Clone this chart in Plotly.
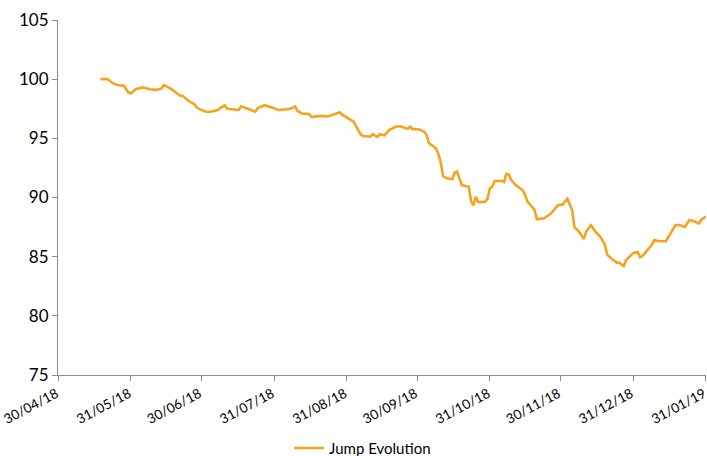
import plotly.graph_objects as go

dates = [
    "2018-05-18", "2018-05-21", "2018-05-23", "2018-05-25", "2018-05-28", "2018-05-29", "2018-05-30", "2018-05-31",
    "2018-06-02", "2018-06-05", "2018-06-08", "2018-06-11", "2018-06-13", "2018-06-14", "2018-06-15", "2018-06-17",
    "2018-06-19", "2018-06-21", "2018-06-22", "2018-06-24", "2018-06-25", "2018-06-27", "2018-06-28", "2018-06-30",
    "2018-07-02", "2018-07-04", "2018-07-07", "2018-07-08", "2018-07-10", "2018-07-11", "2018-07-13", "2018-07-16",
    "2018-07-17", "2018-07-20", "2018-07-23", "2018-07-24", "2018-07-27", "2018-07-30", "2018-08-02", "2018-08-05",
    "2018-08-07", "2018-08-09", "2018-08-10", "2018-08-12", "2018-08-15", "2018-08-16", "2018-08-18", "2018-08-20",
    "2018-08-23", "2018-08-26", "2018-08-28", "2018-08-29", "2018-09-01", "2018-09-03", "2018-09-04", "2018-09-06",
    "2018-09-07", "2018-09-10", "2018-09-11", "2018-09-13", "2018-09-14", "2018-09-16", "2018-09-18", "2018-09-21",
    "2018-09-23", "2018-09-26", "2018-09-27", "2018-09-28", "2018-10-01", "2018-10-03", "2018-10-04", "2018-10-05",
    "2018-10-08", "2018-10-09", "2018-10-10", "2018-10-11", "2018-10-13", "2018-10-15", "2018-10-16", "2018-10-17",
    "2018-10-19", "2018-10-21", "2018-10-22", "2018-10-23", "2018-10-24", "2018-10-25", "2018-10-26", "2018-10-29",
    "2018-10-30", "2018-10-31", "2018-11-01", "2018-11-02", "2018-11-05", "2018-11-06", "2018-11-07", "2018-11-08",
    "2018-11-09", "2018-11-11", "2018-11-14", "2018-11-15", "2018-11-16", "2018-11-18", "2018-11-19", "2018-11-20",
    "2018-11-22", "2018-11-23", "2018-11-26", "2018-11-28", "2018-11-29", "2018-12-01", "2018-12-03", "2018-12-05",
    "2018-12-06", "2018-12-08", "2018-12-10", "2018-12-11", "2018-12-13", "2018-12-15", "2018-12-17", "2018-12-19",
    "2018-12-20", "2018-12-22", "2018-12-24", "2018-12-25", "2018-12-27", "2018-12-28", "2018-12-30", "2018-12-31",
    "2019-01-02", "2019-01-03", "2019-01-04", "2019-01-06", "2019-01-08", "2019-01-09", "2019-01-11", "2019-01-14",
    "2019-01-15", "2019-01-16", "2019-01-18", "2019-01-20", "2019-01-22", "2019-01-24", "2019-01-26", "2019-01-28",
    "2019-01-29", "2019-01-31",
]

jump_evolution = [
    100.0, 100.0, 99.7, 99.5, 99.45, 99.2, 98.85, 98.8,
    99.15, 99.3, 99.15, 99.1, 99.2, 99.5, 99.4, 99.2,
    98.9, 98.6, 98.6, 98.3, 98.1, 97.9, 97.6, 97.4,
    97.25, 97.25, 97.4, 97.55, 97.8, 97.5, 97.45, 97.4,
    97.7, 97.45, 97.25, 97.55, 97.8, 97.6, 97.4, 97.45,
    97.5, 97.7, 97.3, 97.1, 97.05, 96.8, 96.85, 96.9,
    96.85, 97.05, 97.2, 97.0, 96.6, 96.4, 96.0, 95.3,
    95.2, 95.15, 95.35, 95.1, 95.35, 95.25, 95.7, 96.0,
    96.0, 95.8, 96.0, 95.8, 95.75, 95.55, 95.3, 94.6,
    94.15, 93.7, 93.0, 91.8, 91.6, 91.55, 92.1, 92.2,
    91.05, 90.95, 90.9, 89.65, 89.35, 90.07, 89.6, 89.65,
    89.9, 90.8, 90.9, 91.4, 91.4, 91.3, 92.0, 91.95,
    91.5, 91.05, 90.6, 90.2, 89.65, 89.2, 88.95, 88.15,
    88.25, 88.25, 88.65, 89.1, 89.35, 89.4, 89.9, 88.95,
    87.5, 87.1, 86.5, 87.1, 87.65, 87.1, 86.7, 86.0,
    85.15, 84.8, 84.5, 84.5, 84.2, 84.7, 85.05, 85.3,
    85.4, 84.95, 85.05, 85.5, 86.0, 86.4, 86.3, 86.3,
    86.65, 86.9, 87.65, 87.67, 87.5, 88.1, 88.0, 87.8,
    88.1, 88.4,
]

tick_dates = ["2018-04-30", "2018-05-31", "2018-06-30", "2018-07-31", "2018-08-31",
              "2018-09-30", "2018-10-31", "2018-11-30", "2018-12-31", "2019-01-31"]
tick_labels = ["30/04/18", "31/05/18", "30/06/18", "31/07/18", "31/08/18",
               "30/09/18", "31/10/18", "30/11/18", "31/12/18", "31/01/19"]

y_ticks = [75, 80, 85, 90, 95, 100, 105]

fig = go.Figure()
fig.add_trace(go.Scatter(
    x=dates, y=jump_evolution, mode="lines", name="Jump Evolution",
    line=dict(color="#F7A31C", width=2.6),
))

axis_color = "#8C8C8C"
fig.update_layout(
    width=707, height=456,
    margin=dict(l=58, r=1, t=20, b=81, autoexpand=False),
    paper_bgcolor="white", plot_bgcolor="white",
    font=dict(family="Lato, 'Open Sans', sans-serif", color="#000000", size=15),
    showlegend=True,
    legend=dict(orientation="h", x=0.47, xanchor="center", y=-0.16, yanchor="top",
                font=dict(size=15), itemwidth=30, bgcolor="rgba(0,0,0,0)"),
    xaxis=dict(
        type="date", range=["2018-04-29 22:00", "2019-01-31 02:00"],
        tickmode="array", tickvals=tick_dates, ticktext=tick_labels,
        tickangle=-28, tickfont=dict(size=13.5), automargin=False,
        ticklabeloverflow="allow", ticklabelshift=-2,
        showgrid=False, zeroline=False,
        showline=True, linecolor=axis_color, linewidth=1,
        ticks="outside", tickcolor=axis_color, ticklen=5,
    ),
    yaxis=dict(
        range=[75, 105], tickmode="array", tickvals=y_ticks,
        tickfont=dict(size=17), automargin=False,
        showgrid=False, zeroline=False,
        showline=True, linecolor=axis_color, linewidth=1,
        ticks="outside", tickcolor=axis_color, ticklen=5,
    ),
)

fig.write_html(
    "out.html",
    config={"displayModeBar": False},
    post_script=(
        "document.body.style.margin='0';"
        "document.body.style.overflow='hidden';"
        "document.documentElement.style.overflow='hidden';"
    ),
)
